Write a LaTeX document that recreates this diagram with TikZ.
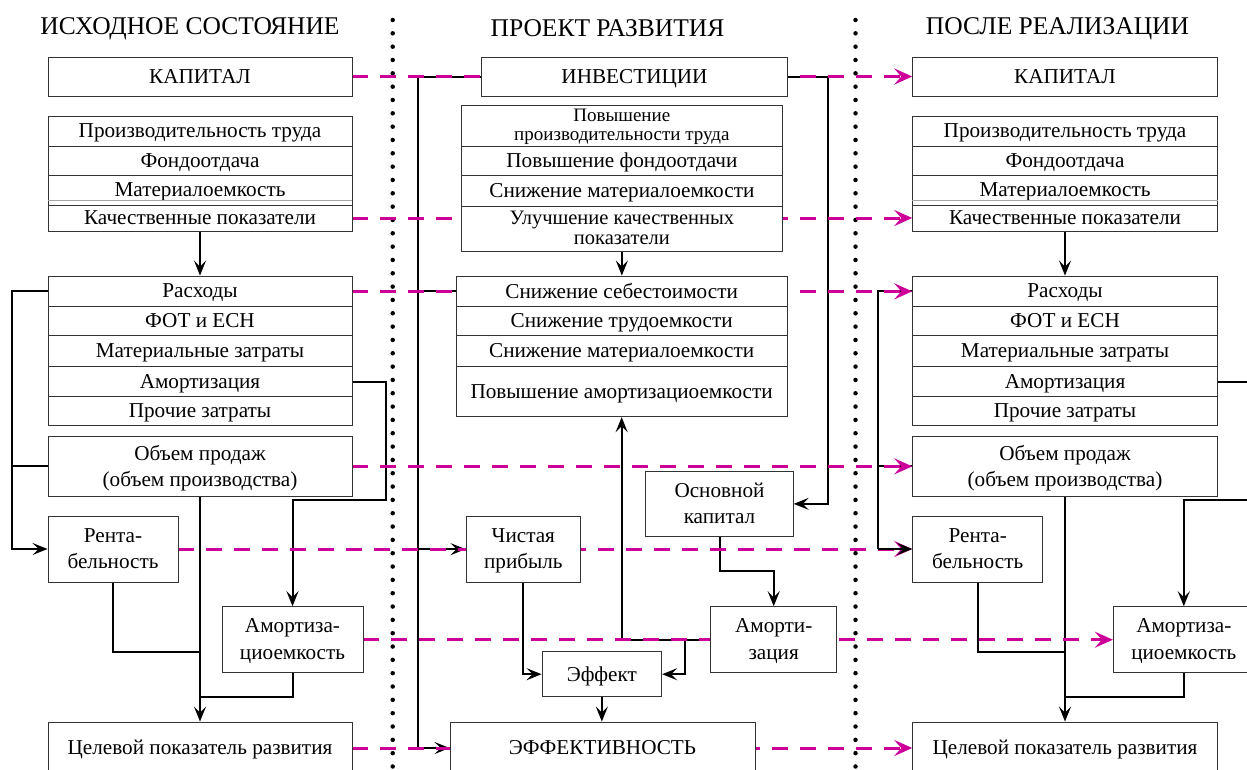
\documentclass[tikz,border=0pt]{standalone}
\usepackage{fontspec}
\setmainfont{Liberation Serif}
\usetikzlibrary{arrows.meta}
\definecolor{pinkc}{RGB}{204,0,153}
\pgfdeclarelayer{bg}
\pgfsetlayers{bg,main}
\newcommand\Bx[7][]{%
  \pgfmathsetmacro\bw{#4-#3}\pgfmathsetmacro\bh{#6-#5}%
  \pgfmathsetmacro\bcx{(#3+#4)/2}\pgfmathsetmacro\bcy{(#5+#6)/2}%
  \node[bx,minimum width=\bw pt,minimum height=\bh pt,#1] (#2) at (\bcx,\bcy) {#7};}
\begin{document}
\begin{tikzpicture}[x=1pt,y=-1pt,
  bx/.style={draw=black!80, line width=0.9pt, fill=white, inner sep=0pt,
    font=\fontsize{21.2}{26.5}\selectfont, align=center, text depth=1pt},
  tight/.style={font=\fontsize{19}{19}\selectfont},
  tight2/.style={font=\fontsize{20.5}{20.5}\selectfont},
  conn/.style={line width=2pt, black},
  arr/.style={conn, -{Stealth[length=15pt,width=12pt,inset=6pt]}},
  pk/.style={line width=3pt, pinkc, dash pattern=on 16pt off 12pt,
    -{Stealth[length=18pt,width=16pt,inset=7pt]}},
  dotl/.style={line width=4.5pt, line cap=round, dash pattern=on 0pt off 13.33pt},
  ttl/.style={font=\fontsize{25.5}{30}\selectfont, inner sep=0pt}]
\useasboundingbox (0,0) rectangle (1247,769);

% titles
\node[ttl] (t1) at (190,28.5) {ИСХОДНОЕ СОСТОЯНИЕ};
\node[ttl] (t2) at (607.5,28.5) {ПРОЕКТ РАЗВИТИЯ};
\node[ttl] (t3) at (1057.5,28.5) {ПОСЛЕ РЕАЛИЗАЦИИ};

% ---- left column
\Bx{Lkap}{48}{352}{57}{96}{КАПИТАЛ}
\Bx{Lpt}{48}{352}{116}{146}{Производительность труда}
\Bx{Lfo}{48}{352}{146}{175.5}{Фондоотдача}
\Bx{Lme}{48}{352}{175.5}{205}{Материалоемкость}
\Bx{Lkp}{48}{352}{205}{231}{Качественные показатели}
\Bx{Lras}{48}{352}{276}{306.7}{Расходы}
\Bx{Lfot}{48}{352}{306.7}{335.7}{ФОТ и ЕСН}
\Bx{Lmz}{48}{352}{335.7}{366.7}{Материальные затраты}
\Bx{Lam}{48}{352}{366.7}{396.7}{Амортизация}
\Bx{Lpr}{48}{352}{396.7}{425.7}{Прочие затраты}
\Bx{Lob}{48}{352}{436.7}{496}{Объем продаж\\(объем производства)}
\Bx{Lrent}{48}{178}{516}{582}{Рента-\\бельность}
\Bx{Lamem}{222}{363}{606.7}{672.7}{Амортиза-\\циоемкость}
\Bx{Lcel}{48}{352}{722}{774}{Целевой показатель развития}
\draw[black!35, line width=0.8pt] ([yshift=5pt]Lme.south west) -- ([yshift=5pt]Lme.south east);

% ---- middle column
\Bx{Minv}{481.7}{787.3}{57}{96}{ИНВЕСТИЦИИ}
\Bx[tight]{Mpt}{461}{782.7}{105}{146}{Повышение\\производительности труда}
\Bx{Mfo}{461}{782.7}{146}{175.5}{Повышение фондоотдачи}
\Bx{Mme}{461}{782.7}{175.5}{206}{Снижение материалоемкости}
\Bx[tight2]{Mkp}{461}{782.7}{206}{251}{Улучшение качественных\\показатели}
\Bx{Mss}{456}{787.3}{276}{306.7}{Снижение себестоимости}
\Bx{Mtr}{456}{787.3}{306.7}{335.7}{Снижение трудоемкости}
\Bx{Mme2}{456}{787.3}{335.7}{366.7}{Снижение материалоемкости}
\Bx{Mam}{456}{787.3}{366.7}{416.7}{Повышение амортизациоемкости}
\Bx{Mok}{645.7}{793.3}{471}{536.7}{Основной\\капитал}
\Bx{Mcp}{466}{580.7}{516}{582.3}{Чистая\\прибыль}
\Bx{Mamz}{710.7}{836.7}{606.7}{672.7}{Аморти-\\зация}
\Bx{Meff}{542}{661.7}{651.7}{696.7}{Эффект}
\Bx{Mef}{450}{755}{722}{774}{ЭФФЕКТИВНОСТЬ}

% ---- right column
\Bx{Rkap}{912.7}{1217.3}{57}{96}{КАПИТАЛ}
\Bx{Rpt}{912.7}{1217.3}{116}{146}{Производительность труда}
\Bx{Rfo}{912.7}{1217.3}{146}{175.5}{Фондоотдача}
\Bx{Rme}{912.7}{1217.3}{175.5}{205}{Материалоемкость}
\Bx{Rkp}{912.7}{1217.3}{205}{231}{Качественные показатели}
\Bx{Rras}{912.7}{1217.3}{276}{306.7}{Расходы}
\Bx{Rfot}{912.7}{1217.3}{306.7}{335.7}{ФОТ и ЕСН}
\Bx{Rmz}{912.7}{1217.3}{335.7}{366.7}{Материальные затраты}
\Bx{Ram}{912.7}{1217.3}{366.7}{396.7}{Амортизация}
\Bx{Rpr}{912.7}{1217.3}{396.7}{425.7}{Прочие затраты}
\Bx{Rob}{912.7}{1217.3}{436.7}{496}{Объем продаж\\(объем производства)}
\Bx{Rrent}{912.7}{1042.7}{516}{582}{Рента-\\бельность}
\Bx{Ramem}{1113.3}{1254.3}{606.7}{672.7}{Амортиза-\\циоемкость}
\Bx{Rcel}{912.7}{1217.3}{722}{774}{Целевой показатель развития}
\draw[black!35, line width=0.8pt] ([yshift=5pt]Rme.south west) -- ([yshift=5pt]Rme.south east);

% helper coordinates
\coordinate (lx) at (12,0);
\coordinate (ax) at (386,500);
\coordinate (j1) at (200,652);
\coordinate (j2) at (200,696.7);
\coordinate (mlx) at (418,0);
\coordinate (mrx) at (827.7,0);
\coordinate (ok1) at (719.5,571);
\coordinate (br) at (685,0);
\coordinate (rlx) at (878.3,0);
\coordinate (rax) at (1262,500);
\coordinate (rj1) at (1065,652);
\coordinate (rj2) at (1065,696.7);

\begin{pgfonlayer}{bg}
% dotted separators
\draw[dotl] (392.7,20) -- (392.7,775);
\draw[dotl] (855.5,20) -- (855.5,775);

% left connectors
\draw[arr] (Lkp.south) -- (Lras.north);
\draw[arr] (Lras.west) -- (Lras.west -| lx) -- (Lrent.west -| lx) -- (Lrent.west);
\draw[conn] (Lob.west) -- (Lob.west -| lx);
\draw[arr] (Lam.east) -- (Lam.east -| ax) -- (ax) -- (ax -| Lamem.north) -- (Lamem.north);
\draw[arr] (Lob.south) -- (Lcel.north);
\draw[conn] (Lrent.south) -- (Lrent.south |- j1) -- (j1);
\draw[conn] (Lamem.south) -- (Lamem.south |- j2) -- (j2);

% middle connectors
\draw[arr] (Minv.west) -- (Minv.west -| mlx) -- (Mef.west -| mlx) -- (Mef.west);
\draw[conn] (Mss.west) -- (Mss.west -| mlx);
\draw[arr] (Mcp.west -| mlx) -- (Mcp.west);
\draw[arr] (Minv.east) -- (Minv.east -| mrx) -- (Mok.east -| mrx) -- (Mok.east);
\draw[arr] (Mkp.south) -- (Mkp.south |- Mss.north);
\draw[arr] (Mok.south) -- (ok1) -- (ok1 -| Mamz.north) -- (Mamz.north);
\draw[arr] (Mamz.west) -- (Mamz.west -| Mam.south) -- (Mam.south);
\draw[arr] (Mamz.west -| br) -- (Meff.east -| br) -- (Meff.east);
\draw[arr] (Mcp.south) -- (Mcp.south |- Meff.west) -- (Meff.west);
\draw[arr] (Meff.south) -- (Meff.south |- Mef.north);

% right connectors
\draw[arr] (Rkp.south) -- (Rras.north);
\draw[conn] (Rras.west) -- (Rras.west -| rlx) -- (Rrent.west -| rlx);
\draw[conn] (Rob.west) -- (Rob.west -| rlx);
\draw[arr] (Ram.east) -- (Ram.east -| rax) -- (rax) -- (rax -| Ramem.north) -- (Ramem.north);
\draw[arr] (Rob.south) -- (Rcel.north);
\draw[conn] (Rrent.south) -- (Rrent.south |- rj1) -- (rj1);
\draw[conn] (Ramem.south) -- (Ramem.south |- rj2) -- (rj2);

% pink dashed links
\draw[pk] (Lkap.east) -- (Rkap.west);
\draw[pk] (Lkp.east) -- (Rkp.west);
\draw[pk] (Lras.east) -- (Rras.west);
\draw[pk] (Lob.east) -- (Rob.west);
\draw[pk] (Lrent.east) -- (Rrent.west);
\draw[pk] (Lamem.east) -- (Ramem.west);
\draw[pk] (Lcel.east) -- (Rcel.west);

\draw[arr] (Rrent.west -| rlx) -- (Rrent.west);
\end{pgfonlayer}
\end{tikzpicture}
\end{document}
